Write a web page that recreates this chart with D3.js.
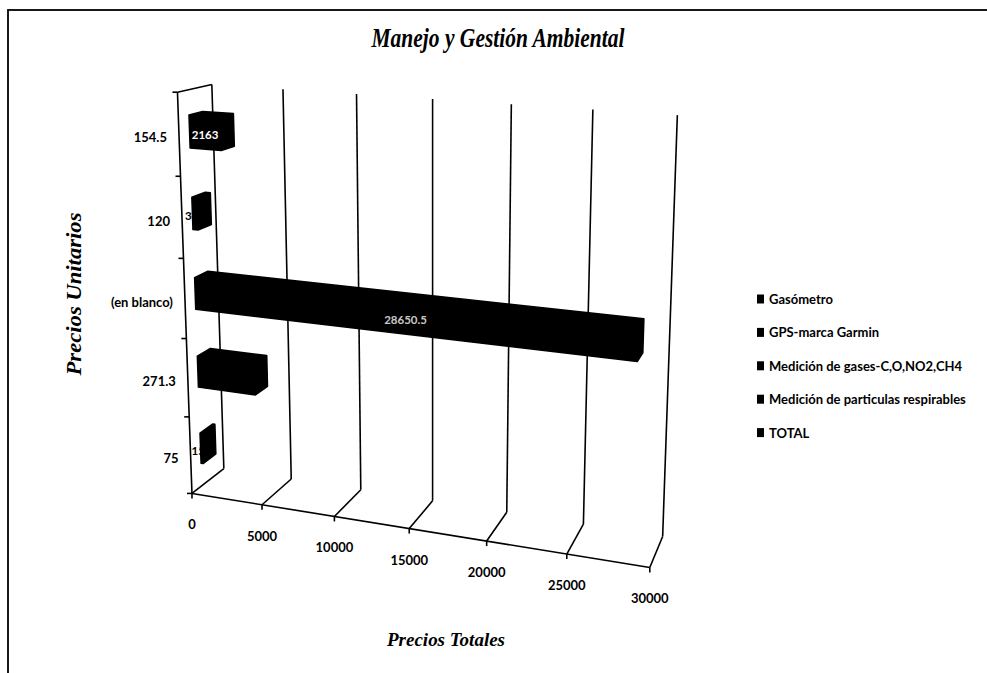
<!DOCTYPE html>
<html>
<head>
<meta charset="utf-8">
<script src="https://cdn.jsdelivr.net/npm/d3@7"></script>
<style>
  body { margin: 0; background: #fff; }
  svg { display: block; }
</style>
</head>
<body>
<svg id="chart" width="987" height="673"></svg>
<script>
// ---- data -------------------------------------------------------------
// Unit prices (category axis), listed top to bottom
const categories = ["154.5", "120", "(en blanco)", "271.3", "75"];
// Total price of each category (bar length)
const totals = [2163, 360, 28650.5, 4069.5, 150];
// Series each bar belongs to
const barSeries = [
  "GPS-marca Garmin",
  "Medición de gases-C,O,NO2,CH4",
  "TOTAL",
  "Medición de particulas respirables",
  "Gasómetro"
];
// Legend entries
const seriesNames = [
  "Gasómetro",
  "GPS-marca Garmin",
  "Medición de gases-C,O,NO2,CH4",
  "Medición de particulas respirables",
  "TOTAL"
];
// Value axis ticks
const xTicks = [0, 5000, 10000, 15000, 20000, 25000, 30000];

// ---- styles -----------------------------------------------------------
const seriesColor = d3.scaleOrdinal()
  .domain(seriesNames)
  .range(["#000", "#000", "#000", "#000", "#000"]);
const labelFill = { "154.5": "#fff", "120": "#000", "(en blanco)": "#fff", "271.3": "#000", "75": "#000" };
const labelOpacity = { "154.5": 1, "120": 1, "(en blanco)": 0.8, "271.3": 1, "75": 1 };
const uiFont = "Lato, 'Open Sans', sans-serif";
const serifFont = "'Liberation Serif', 'DejaVu Serif', serif";

// ---- layout: screen position of the plot box edges ------------------------
// Floor front edge, floor back edge and back-wall top, one point per value tick
const frontFloorPx = [[194,493],[263,505],[335,517],[409,530],[485,542],[565,555],[648,568]];
const backFloorPx  = [[221,467],[292,480],[360,492],[433,500],[507,510],[585,523],[665,535]];
const backTopPx    = [[211,85],[283,90],[356,95],[432,102],[511,105],[593,110],[678,113]];
const frontTopLeftPx = [179,88];

// [value fraction, height 0..1, depth 0..1, screen x, screen y]
const boxAnchors = [];
frontFloorPx.forEach((p, i) => boxAnchors.push([i / 6, 0, 0, p[0], p[1]]));
backFloorPx.forEach((p, i)  => boxAnchors.push([i / 6, 0, 1, p[0], p[1]]));
backTopPx.forEach((p, i)    => boxAnchors.push([i / 6, 1, 1, p[0], p[1]]));
boxAnchors.push([0, 1, 0, frontTopLeftPx[0], frontTopLeftPx[1]]);

// Solve a perspective camera (3x4 projection) by least squares
function solveCamera(anchors) {
  const cx = 450, cy = 300, s = 300;
  const rows = [], rhs = [];
  anchors.forEach(([X, Y, Z, u0, v0]) => {
    const u = (u0 - cx) / s, v = (v0 - cy) / s;
    rows.push([X, Y, Z, 1, 0, 0, 0, 0, -u * X, -u * Y, -u * Z]); rhs.push(u);
    rows.push([0, 0, 0, 0, X, Y, Z, 1, -v * X, -v * Y, -v * Z]); rhs.push(v);
  });
  const n = 11;
  const M = d3.range(n).map(i => {
    const r = new Array(n + 1).fill(0);
    for (let j = 0; j < n; j++) r[j] = d3.sum(rows, row => row[i] * row[j]);
    r[n] = d3.sum(rows, (row, k) => row[i] * rhs[k]);
    return r;
  });
  for (let c = 0; c < n; c++) {
    let piv = c;
    for (let r = c + 1; r < n; r++) if (Math.abs(M[r][c]) > Math.abs(M[piv][c])) piv = r;
    [M[c], M[piv]] = [M[piv], M[c]];
    for (let r = 0; r < n; r++) {
      if (r === c) continue;
      const f = M[r][c] / M[c][c];
      for (let k = c; k <= n; k++) M[r][k] -= f * M[c][k];
    }
  }
  const p = M.map((r, i) => r[n] / r[i]);
  return (X, Y, Z) => {
    const w = p[8] * X + p[9] * Y + p[10] * Z + 1;
    return [cx + s * (p[0] * X + p[1] * Y + p[2] * Z + p[3]) / w,
            cy + s * (p[4] * X + p[5] * Y + p[6] * Z + p[7]) / w];
  };
}
const project = solveCamera(boxAnchors);

// ---- scales -------------------------------------------------------------
const x = d3.scaleLinear().domain([0, 30000]).range([0, 1]);
const y = d3.scaleBand().domain(categories).range([1, 0]);   // first category on top
const barFrac = 0.4;             // bar thickness within its slot
const depth = [0.3, 0.7];        // bar depth inside the box

const svg = d3.select("#chart");

// chart area border
svg.append("rect")
  .attr("x", 8).attr("y", 10).attr("width", 1000).attr("height", 700)
  .attr("fill", "none").attr("stroke", "#000").attr("stroke-width", 1.8);

// title
svg.append("text")
  .attr("x", 498).attr("y", 47)
  .attr("text-anchor", "middle")
  .attr("font-family", serifFont).attr("font-style", "italic").attr("font-weight", "bold")
  .attr("font-size", 27)
  .attr("textLength", 253).attr("lengthAdjust", "spacingAndGlyphs")
  .text("Manejo y Gestión Ambiental");

const line = d3.line();
const frame = svg.append("g").attr("fill", "none").attr("stroke", "#000").attr("stroke-width", 1.6);

// back wall gridlines and their floor segments
xTicks.forEach(t => {
  frame.append("path").attr("d", line([project(x(t), 0, 1), project(x(t), 1, 1)]));
  frame.append("path").attr("d", line([project(x(t), 0, 0), project(x(t), 0, 1)]));
});
// top edge of the side wall
frame.append("path").attr("d", line([project(0, 1, 0), project(0, 1, 1)]));

// bars as solid 3-D boxes
const bars = svg.append("g");
categories.forEach((c, i) => {
  const x1 = x(totals[i]);
  const y0 = y(c) + y.bandwidth() * (1 - barFrac) / 2;
  const y1 = y0 + y.bandwidth() * barFrac;
  const corners = [];
  [0, x1].forEach(X => [y0, y1].forEach(Y => depth.forEach(Z => corners.push(project(X, Y, Z)))));
  const hull = d3.polygonHull(corners);
  bars.append("path")
    .attr("d", "M" + hull.join("L") + "Z")
    .attr("fill", seriesColor(barSeries[i]))
    .attr("stroke", seriesColor(barSeries[i]))
    .attr("stroke-width", 1.5)
    .attr("stroke-linejoin", "round");
});

// category axis on the front edge of the side wall
const axes = svg.append("g").attr("stroke", "#000").attr("stroke-width", 1.6).attr("fill", "none");
axes.append("path").attr("d", line([project(0, 0, 0), project(0, 1, 0)]));
d3.range(categories.length + 1).forEach(k => {
  const p = project(0, k / categories.length, 0);
  axes.append("path").attr("d", line([p, [p[0] - 5, p[1]]]));
});
// value axis on the front edge of the floor
axes.append("path").attr("d", line([project(0, 0, 0), project(1, 0, 0)]));
xTicks.forEach(t => {
  const p = project(x(t), 0, 0);
  axes.append("path").attr("d", line([p, [p[0], p[1] + 5]]));
});

// category labels
categories.forEach(c => {
  const p = project(0, y(c) + y.bandwidth() / 2, 0);
  svg.append("text")
    .attr("x", p[0] - 12).attr("y", p[1] + 3)
    .attr("text-anchor", "end").attr("dominant-baseline", "central")
    .attr("font-family", uiFont).attr("font-weight", "bold").attr("font-size", 13)
    .text(c);
});
// value tick labels
xTicks.forEach(t => {
  const p = project(x(t), 0, 0);
  svg.append("text")
    .attr("x", p[0]).attr("y", p[1] + 36)
    .attr("text-anchor", "middle")
    .attr("font-family", uiFont).attr("font-weight", "bold").attr("font-size", 13)
    .text(t);
});

// data labels on the bars
categories.forEach((c, i) => {
  const yc = y(c) + y.bandwidth() / 2;
  const p = project(x(totals[i]) / 2, yc, depth[0]);
  svg.append("text")
    .attr("x", p[0]).attr("y", p[1] + 2)
    .attr("text-anchor", "middle").attr("dominant-baseline", "central")
    .attr("font-family", uiFont).attr("font-weight", "bold").attr("font-size", 11.5)
    .attr("fill", labelFill[c]).attr("fill-opacity", labelOpacity[c])
    .text(totals[i]);
});

// axis titles
svg.append("text")
  .attr("transform", "translate(81,294) rotate(-90)")
  .attr("text-anchor", "middle")
  .attr("font-family", serifFont).attr("font-style", "italic").attr("font-weight", "bold")
  .attr("font-size", 20)
  .attr("textLength", 163).attr("lengthAdjust", "spacingAndGlyphs")
  .text("Precios Unitarios");
svg.append("text")
  .attr("x", 446).attr("y", 646)
  .attr("text-anchor", "middle")
  .attr("font-family", serifFont).attr("font-style", "italic").attr("font-weight", "bold")
  .attr("font-size", 19)
  .attr("textLength", 118).attr("lengthAdjust", "spacingAndGlyphs")
  .text("Precios Totales");

// legend
const legend = svg.append("g").attr("transform", "translate(757,299)");
seriesNames.forEach((s, i) => {
  const row = legend.append("g").attr("transform", `translate(0,${i * 33.4})`);
  row.append("rect").attr("x", 0).attr("y", -4.5).attr("width", 7).attr("height", 9)
    .attr("fill", seriesColor(s));
  row.append("text").attr("x", 12).attr("y", 0)
    .attr("dominant-baseline", "central")
    .attr("font-family", uiFont).attr("font-weight", "bold").attr("font-size", 13)
    .text(s);
});
</script>
</body>
</html>
